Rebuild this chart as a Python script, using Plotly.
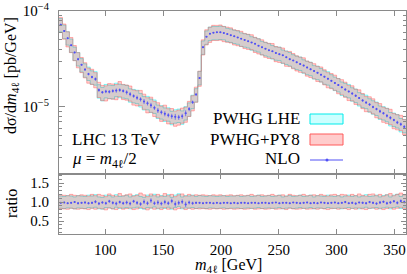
import numpy as np
import plotly.graph_objects as go

# ---------------- data ----------------
BIN_START = 60
BIN_WIDTH = 3
N_BINS = 100

# NLO differential cross section [pb/GeV], bin centres 61.5 ... 358.5
nlo = [
    7.2e-5, 6.2e-5, 5.2e-5, 4.4e-5, 3.7e-5, 3.15e-5, 2.75e-5, 2.45e-5, 2.2e-5, 2.05e-5,
    1.95e-5, 1.5e-5, 1.42e-5, 1.45e-5, 1.44e-5, 1.47e-5, 1.48e-5, 1.50e-5, 1.47e-5, 1.42e-5,
    1.36e-5, 1.30e-5, 1.25e-5, 1.20e-5, 1.14e-5, 1.09e-5, 1.04e-5, 9.8e-6, 9.2e-6, 8.8e-6,
    8.5e-6, 8.2e-6, 8.0e-6, 7.9e-6, 7.8e-6, 8.0e-6, 8.6e-6, 9.5e-6, 1.12e-5, 1.35e-5,
    2.0e-5, 4.2e-5, 5.4e-5, 5.8e-5, 5.95e-5, 6.0e-5, 6.0e-5, 5.9e-5, 5.75e-5, 5.6e-5,
    5.45e-5, 5.3e-5, 5.15e-5, 5.0e-5, 4.85e-5, 4.7e-5, 4.55e-5, 4.35e-5, 4.2e-5, 4.05e-5,
    3.9e-5, 3.8e-5, 3.65e-5, 3.55e-5, 3.45e-5, 3.3e-5, 3.15e-5, 3.05e-5, 2.92e-5, 2.8e-5,
    2.7e-5, 2.58e-5, 2.47e-5, 2.37e-5, 2.27e-5, 2.17e-5, 2.07e-5, 1.97e-5, 1.87e-5, 1.78e-5,
    1.69e-5, 1.60e-5, 1.52e-5, 1.45e-5, 1.38e-5, 1.31e-5, 1.24e-5, 1.17e-5, 1.11e-5, 1.06e-5,
    1.0e-5, 9.5e-6, 9.0e-6, 8.6e-6, 8.1e-6, 7.7e-6, 7.3e-6, 6.9e-6, 6.6e-6, 6.2e-6,
]

# relative statistical error of NLO
nlo_err = [
    0.02, 0.02, 0.02, 0.02, 0.02, 0.03, 0.02, 0.03, 0.03, 0.03,
    0.04, 0.04, 0.03, 0.04, 0.04, 0.04, 0.05, 0.04, 0.04, 0.05,
    0.05, 0.04, 0.05, 0.05, 0.06, 0.05, 0.06, 0.05, 0.06, 0.05,
    0.06, 0.05, 0.06, 0.07, 0.06, 0.06, 0.07, 0.05, 0.04, 0.03,
    0.02, 0.02, 0.01, 0.01, 0.01, 0.01, 0.01, 0.01, 0.01, 0.01,
    0.01, 0.01, 0.01, 0.01, 0.01, 0.01, 0.01, 0.01, 0.01, 0.01,
    0.01, 0.01, 0.01, 0.02, 0.01, 0.01, 0.02, 0.01, 0.02, 0.02,
    0.02, 0.02, 0.02, 0.02, 0.02, 0.02, 0.02, 0.02, 0.02, 0.02,
    0.02, 0.02, 0.03, 0.02, 0.03, 0.03, 0.02, 0.03, 0.03, 0.03,
    0.03, 0.03, 0.04, 0.03, 0.04, 0.04, 0.03, 0.04, 0.04, 0.04,
]

# PWHG LHE / NLO
lhe_ratio = [
    1.00, 0.99, 1.01, 1.00, 0.98, 1.01, 1.00, 0.99, 1.02, 1.00,
    1.03, 0.98, 0.97, 1.02, 1.01, 0.98, 1.03, 0.99, 1.00, 1.02,
    0.98, 1.01, 1.03, 0.99, 0.97, 1.02, 1.00, 1.04, 0.98, 1.01,
    0.99, 1.03, 0.97, 1.02, 1.05, 0.98, 1.01, 1.00, 1.02, 0.99,
    1.01, 1.00, 0.99, 1.01, 1.00, 0.99, 1.00, 1.01, 0.99, 1.00,
    1.00, 1.01, 0.99, 1.00, 1.01, 0.99, 1.00, 1.02, 0.99, 1.00,
    1.01, 0.99, 1.00, 1.02, 0.98, 1.00, 1.01, 0.99, 1.00, 1.02,
    0.99, 1.00, 1.02, 0.98, 1.01, 1.00, 0.99, 1.02, 1.00, 0.99,
    1.01, 0.98, 1.00, 1.02, 0.99, 1.01, 0.98, 1.00, 1.03, 0.99,
    1.00, 1.02, 0.98, 1.01, 1.03, 0.98, 1.02, 1.04, 0.99, 1.03,
]

# PWHG+PY8 / NLO
py8_ratio = [
    1.01, 1.00, 0.99, 1.02, 1.00, 0.99, 1.01, 1.00, 0.98, 1.02,
    0.99, 1.02, 1.00, 0.97, 1.03, 1.00, 0.98, 1.04, 0.99, 1.01,
    1.03, 0.98, 1.00, 1.05, 1.01, 0.97, 1.03, 0.99, 1.02, 0.98,
    1.04, 0.99, 1.02, 0.97, 1.01, 1.03, 0.98, 1.02, 0.99, 1.01,
    1.00, 1.01, 1.00, 0.99, 1.01, 1.00, 1.01, 0.99, 1.00, 1.01,
    0.99, 1.00, 1.01, 0.99, 1.00, 1.02, 0.99, 1.00, 1.01, 0.99,
    1.00, 1.02, 0.99, 1.00, 1.01, 0.98, 1.02, 1.00, 0.99, 1.00,
    1.02, 0.99, 1.00, 1.01, 0.99, 1.02, 1.00, 0.98, 1.01, 1.02,
    0.99, 1.02, 1.01, 0.98, 1.02, 0.99, 1.03, 1.00, 0.98, 1.02,
    1.03, 0.99, 1.02, 0.98, 1.01, 1.04, 0.99, 1.02, 1.05, 1.01,
]

# NLO points shown in the ratio panel
nlo_ratio = [
    0.98, 0.99, 0.97, 0.98, 1.00, 0.97, 0.98, 0.99, 0.97, 0.98,
    1.01, 0.96, 0.99, 0.97, 1.02, 0.98, 0.96, 1.00, 0.97, 0.99,
    0.96, 1.02, 0.98, 0.95, 1.01, 0.97, 1.04, 0.97, 0.99, 0.96,
    1.00, 0.97, 1.03, 0.95, 0.98, 1.01, 0.94, 0.99, 0.97, 0.98,
    0.98, 0.97, 0.98, 0.98, 0.97, 0.98, 0.97, 0.98, 0.98, 0.97,
    0.98, 0.97, 0.98, 0.98, 0.97, 0.98, 0.98, 0.97, 0.98, 0.98,
    0.97, 0.98, 0.99, 0.97, 0.98, 0.98, 0.97, 0.99, 0.98, 0.97,
    0.98, 0.99, 0.97, 0.98, 0.97, 0.99, 0.98, 0.97, 0.98, 0.99,
    0.97, 0.98, 1.00, 0.97, 0.98, 0.96, 0.99, 0.98, 0.97, 1.00,
    0.98, 0.96, 0.99, 1.01, 0.97, 0.99, 1.02, 0.98, 1.03, 1.00,
]

lhe_unc = 0.16   # relative half-width of PWHG LHE band
py8_unc = 0.18   # relative half-width of PWHG+PY8 band

x_ticks = [100, 150, 200, 250, 300, 350]
x_ticktext = ["100", "150", "200", "250", "300", "350"]
y_ticks = [1e-5, 1e-4]
y_ticktext = ["10<sup>−5</sup>", "10<sup>−4</sup>"]
r_ticks = [0.5, 1.0, 1.5]
r_ticktext = ["0.5", "1.0", "1.5"]

# ---------------- derived ----------------
assert len(nlo) == N_BINS and len(lhe_ratio) == N_BINS and len(py8_ratio) == N_BINS
assert len(nlo_ratio) == N_BINS and len(nlo_err) == N_BINS
edges = BIN_START + BIN_WIDTH * np.arange(N_BINS + 1)
centers = edges[:-1] + BIN_WIDTH / 2
nlo_a = np.array(nlo)
lhe_c = nlo_a * np.array(lhe_ratio)
py8_c = nlo_a * np.array(py8_ratio)

FONT = "Liberation Serif"
GRAY = "#8a8a8a"
BLUE = "rgb(80,80,245)"
CYAN_FILL = "rgba(0,255,255,0.2)"
CYAN_LINE = "rgba(0,235,235,0.8)"
RED_FILL = "rgba(255,0,0,0.2)"
RED_LINE = "rgba(255,90,90,0.75)"

fig = go.Figure()


def add_band(lo, hi, fillc, linec, xa, ya):
    lo_s = np.append(lo, lo[-1])
    hi_s = np.append(hi, hi[-1])
    fig.add_trace(go.Scatter(x=edges, y=lo_s, mode="lines",
                             line=dict(shape="hv", color=linec, width=0.6),
                             xaxis=xa, yaxis=ya, showlegend=False, hoverinfo="skip"))
    fig.add_trace(go.Scatter(x=edges, y=hi_s, mode="lines",
                             line=dict(shape="hv", color=linec, width=0.6),
                             fill="tonexty", fillcolor=fillc,
                             xaxis=xa, yaxis=ya, showlegend=False, hoverinfo="skip"))


# main panel
add_band(lhe_c * (1 - lhe_unc), lhe_c * (1 + lhe_unc), CYAN_FILL, CYAN_LINE, "x", "y")
add_band(py8_c * (1 - py8_unc), py8_c * (1 + py8_unc), RED_FILL, RED_LINE, "x", "y")
fig.add_trace(go.Scatter(x=centers, y=nlo_a, mode="markers",
                         marker=dict(size=2, color=BLUE),
                         error_y=dict(type="data", array=nlo_a * np.array(nlo_err),
                                      width=0, thickness=0.7, color=BLUE),
                         error_x=dict(type="constant", value=0.8, width=0,
                                      thickness=0.7, color=BLUE),
                         xaxis="x", yaxis="y", showlegend=False))

# ratio panel
lr = np.array(lhe_ratio)
pr = np.array(py8_ratio)
add_band(lr * (1 - lhe_unc), lr * (1 + lhe_unc), CYAN_FILL, CYAN_LINE, "x2", "y2")
add_band(pr * (1 - py8_unc), pr * (1 + py8_unc), RED_FILL, RED_LINE, "x2", "y2")
fig.add_trace(go.Scatter(x=centers, y=nlo_ratio, mode="markers",
                         marker=dict(size=2, color=BLUE),
                         error_y=dict(type="data", array=nlo_err,
                                      width=0, thickness=0.7, color=BLUE),
                         error_x=dict(type="constant", value=0.8, width=0,
                                      thickness=0.7, color=BLUE),
                         xaxis="x2", yaxis="y2", showlegend=False))

# ---------------- layout ----------------
W, H = 407, 274
PLOT_L, PLOT_R, PLOT_T, PLOT_B = 59, 406, 11, 234   # target page pixels
ML, MT = PLOT_L, PLOT_T
MR = W - PLOT_R
MB = H - PLOT_B
PW, PH = PLOT_R - PLOT_L, PLOT_B - PLOT_T
split = (234 - 174) / PH


def px(xp):
    return (xp - PLOT_L) / PW


def py(yp):
    return (PLOT_B - yp) / PH


tickfont = dict(family=FONT, size=15, color="black")
common_x = dict(range=[60, 360], tickvals=x_ticks, ticktext=x_ticktext,
                ticks="inside", ticklen=5, tickcolor=GRAY, tickwidth=1,
                showline=True, linecolor=GRAY, linewidth=1, mirror="allticks",
                showgrid=False, zeroline=False, tickfont=tickfont)

minor_main = [k * 1e-6 for k in range(2, 10)] + [k * 1e-5 for k in range(2, 10)]

fig.update_layout(
    width=W, height=H,
    margin=dict(l=ML, r=MR, t=MT, b=MB, pad=0),
    paper_bgcolor="white", plot_bgcolor="white",
    showlegend=False,
    xaxis=dict(common_x, domain=[0, 1], anchor="y", showticklabels=False, matches="x2"),
    xaxis2=dict(common_x, domain=[0, 1], anchor="y2", ticklabelstandoff=2),
    yaxis=dict(type="log", range=[np.log10(2e-6), -4], domain=[split, 1], anchor="x",
               tickvals=y_ticks, ticktext=y_ticktext, ticks="inside", ticklen=6,
               tickcolor=GRAY, showline=True, linecolor=GRAY, mirror="allticks",
               showgrid=False, zeroline=False, tickfont=tickfont, ticklabelstandoff=6,
               minor=dict(tickvals=minor_main, ticks="inside", ticklen=3,
                          tickcolor=GRAY, showgrid=False)),
    yaxis2=dict(range=[0.16, 1.74], domain=[0, split], anchor="x2",
                tickvals=r_ticks, ticktext=r_ticktext, ticks="inside", ticklen=5,
                tickcolor=GRAY, showline=True, linecolor=GRAY, mirror="allticks",
                showgrid=False, zeroline=False, tickfont=tickfont, ticklabelstandoff=6,
                minor=dict(dtick=0.1, tick0=0, ticks="inside", ticklen=3,
                           tickcolor=GRAY, showgrid=False)),
)

tfont = dict(family=FONT, size=17, color="black")
ann = [
    dict(text="dσ/d<i>m</i><sub>4ℓ</sub> [pb/GeV]", x=px(11), y=py(75), textangle=-90,
         font=dict(family=FONT, size=16, color="black")),
    dict(text="ratio", x=px(11), y=py(203), textangle=-90,
         font=dict(family=FONT, size=16, color="black")),
    dict(text="<i>m</i><sub>4ℓ</sub> [GeV]", x=px(228), y=py(265),
         font=dict(family=FONT, size=16, color="black")),
    dict(text="LHC 13 TeV", x=px(70), y=py(139), xanchor="left"),
    dict(text="<i>μ</i> = <i>m</i><sub>4ℓ</sub>/2", x=px(70), y=py(160), xanchor="left"),
    dict(text="PWHG LHE", x=px(302), y=py(118), xanchor="right"),
    dict(text="PWHG+PY8", x=px(302), y=py(139), xanchor="right"),
    dict(text="NLO", x=px(302), y=py(159), xanchor="right"),
]
for a in ann:
    base = dict(xref="paper", yref="paper", showarrow=False, font=tfont,
                xanchor="center", yanchor="middle")
    base.update(a)
    fig.add_annotation(**base)

# legend swatches
fig.add_shape(type="rect", xref="paper", yref="paper",
              x0=px(310), x1=px(343), y0=py(124), y1=py(114),
              fillcolor="rgb(204,255,255)", line=dict(color="rgb(0,235,235)", width=1))
fig.add_shape(type="rect", xref="paper", yref="paper",
              x0=px(310), x1=px(343), y0=py(145), y1=py(134),
              fillcolor="rgb(255,204,204)", line=dict(color="rgb(255,90,90)", width=1))
fig.add_shape(type="line", xref="paper", yref="paper",
              x0=px(310), x1=px(343), y0=py(160), y1=py(160),
              line=dict(color=BLUE, width=1))
fig.add_shape(type="circle", xref="paper", yref="paper",
              x0=px(325.5), x1=px(328.5), y0=py(161.5), y1=py(158.5),
              fillcolor=BLUE, line=dict(color=BLUE, width=0))

fig.write_html("out.html", config={"displayModeBar": False},
               post_script="document.body.style.margin='0';document.body.style.overflow='hidden';")
